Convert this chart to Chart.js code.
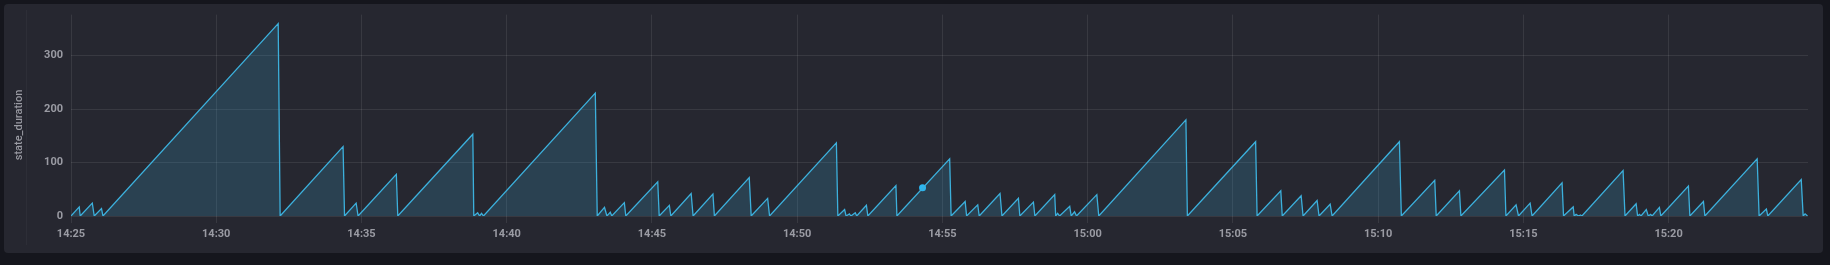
<!DOCTYPE html>
<html>
<head>
<meta charset="utf-8">
<script src="https://cdn.jsdelivr.net/npm/chart.js@4.4.1/dist/chart.umd.min.js"></script>
<style>
  html, body { margin: 0; padding: 0; background: #15161d; overflow: hidden; }
  #wrap { position: relative; width: 1830px; height: 265px; }
</style>
</head>
<body>
<div id="wrap"><canvas id="durationChart" width="1830" height="265"></canvas></div>
<script>
// ---- data (seconds after 14:25:00, state_duration) ----
const startClock = [14, 25];
const secs = [
    0, 17, 19, 44, 48, 63, 66, 428, 432, 562, 565, 589, 593, 672, 675, 830, 832,
    840, 844, 848, 852, 1083, 1087, 1102, 1107, 1114, 1117, 1143, 1146,
    1212, 1215, 1236, 1239, 1281, 1285, 1326, 1329, 1401, 1405, 1439, 1443,
    1581, 1584, 1598, 1601, 1608, 1611, 1620, 1623, 1643, 1646, 1704, 1706,
    1815, 1818, 1847, 1850, 1873, 1876, 1919, 1923, 1957, 1960, 1988, 1991,
    2032, 2034, 2038, 2042, 2063, 2066, 2073, 2077, 2119, 2123, 2303, 2306,
    2447, 2450, 2499, 2502, 2541, 2545, 2574, 2578, 2601, 2605, 2744, 2748,
    2817, 2820, 2868, 2871, 2961, 2964, 2985, 2990, 3014, 3018, 3080, 3083,
    3103, 3105, 3109, 3114, 3118, 3121, 3206, 3210, 3233, 3236, 3240, 3243,
    3254, 3258, 3263, 3266, 3281, 3284, 3341, 3344, 3372, 3375, 3483, 3487,
    3502, 3505, 3574, 3578, 3582, 3587
];
const durations = [
    0, 17, 0, 24, 0, 14, 0, 360, 0, 130, 0, 24, 0, 78, 0, 153, 0,
    6, 0, 5, 0, 230, 0, 16, 0, 7, 0, 25, 0,
    64, 0, 20, 0, 42, 0, 41, 0, 72, 0, 33, 0,
    137, 0, 12, 0, 4, 0, 6, 0, 20, 0, 57, 0,
    107, 0, 27, 0, 21, 0, 42, 0, 33, 0, 26, 0,
    40, 0, 5, 0, 18, 0, 8, 0, 40, 0, 180, 0,
    139, 0, 47, 0, 38, 0, 29, 0, 22, 0, 139, 0,
    67, 0, 47, 0, 86, 0, 21, 0, 24, 0, 62, 0,
    17, 0, 3, 0, 2, 0, 85, 0, 23, 0, 3, 0,
    12, 0, 3, 0, 16, 0, 56, 0, 27, 0, 107, 0,
    13, 0, 68, 0, 4, 0
];
// hovered point
const hoverSec = [1759];
const hoverVal = [53];

// tick positions
const xTicks = [0, 300, 600, 900, 1200, 1500, 1800, 2100, 2400, 2700, 3000, 3300];
const yTicks = [0, 100, 200, 300];
const xMax = 3588;          // ~15:24:48
const yMax = 377;
const yTitle = 'state_duration';

// ---- colors ----
const lineColor = '#3cb0dc';
const fillColor = 'rgba(60, 170, 215, 0.2)';
const gridColor = 'rgba(255, 255, 255, 0.085)';
const labelColor = '#9a9ba3';

function fmtClock(s) {
    const total = startClock[0] * 60 + startClock[1] + Math.round(s / 60);
    const h = Math.floor(total / 60), m = total % 60;
    return h + ':' + String(m).padStart(2, '0');
}

// panel background + y title
const panelPlugin = {
    id: 'panel',
    beforeDraw(chart) {
        const c = chart.ctx;
        c.save();
        c.fillStyle = '#15161d';
        c.fillRect(0, 0, chart.width, chart.height);
        c.fillStyle = '#262730';
        c.beginPath();
        c.roundRect(4, 4, 1819, 249, 4);
        c.fill();
        c.fillStyle = 'rgba(255,255,255,0.035)';
        c.fillRect(26, 10, 1, 235);
        c.restore();
    },
    afterDraw(chart) {
        const c = chart.ctx;
        c.save();
        c.translate(19, 125);
        c.rotate(-Math.PI / 2);
        c.font = '500 11px Roboto';
        c.fillStyle = labelColor;
        c.textAlign = 'center';
        c.textBaseline = 'middle';
        c.fillText(yTitle, 0, 0);
        c.restore();
    }
};

const ctx = document.getElementById('durationChart').getContext('2d');
const durationChart = new Chart(ctx, {
    type: 'line',
    data: {
        datasets: [
            {
                label: yTitle,
                data: secs.map((s, i) => ({ x: s, y: durations[i] })),
                borderColor: lineColor,
                borderWidth: 1.3,
                backgroundColor: fillColor,
                fill: 'origin',
                pointRadius: 0,
                tension: 0
            },
            {
                label: 'hover',
                data: hoverSec.map((s, i) => ({ x: s, y: hoverVal[i] })),
                showLine: false,
                pointRadius: 3.5,
                pointBackgroundColor: '#2bb7f2',
                pointBorderColor: '#2bb7f2',
                pointBorderWidth: 0
            }
        ]
    },
    options: {
        responsive: false,
        animation: false,
        layout: { padding: { left: 0, top: 12, right: 22, bottom: 19 } },
        plugins: { legend: { display: false }, tooltip: { enabled: false } },
        scales: {
            x: {
                type: 'linear',
                min: 0,
                max: xMax,
                afterBuildTicks: s => { s.ticks = xTicks.map(v => ({ value: v })); },
                afterFit: s => { s.height = 30; },
                ticks: {
                    callback: v => fmtClock(v),
                    color: labelColor,
                    font: { family: 'Roboto', size: 11, weight: 'bold' },
                    padding: 5,
                    maxRotation: 0,
                    autoSkip: false
                },
                grid: { color: gridColor, tickColor: gridColor, tickLength: 7 },
                border: { display: false }
            },
            y: {
                min: 0,
                max: yMax,
                afterBuildTicks: s => { s.ticks = yTicks.map(v => ({ value: v })); },
                afterFit: s => { s.width = 71; },
                ticks: {
                    color: labelColor,
                    font: { family: 'Roboto', size: 11, weight: 'bold' },
                    padding: 8
                },
                grid: { color: gridColor, drawTicks: false },
                border: { display: false }
            }
        }
    },
    plugins: [panelPlugin]
});
</script>
</body>
</html>
